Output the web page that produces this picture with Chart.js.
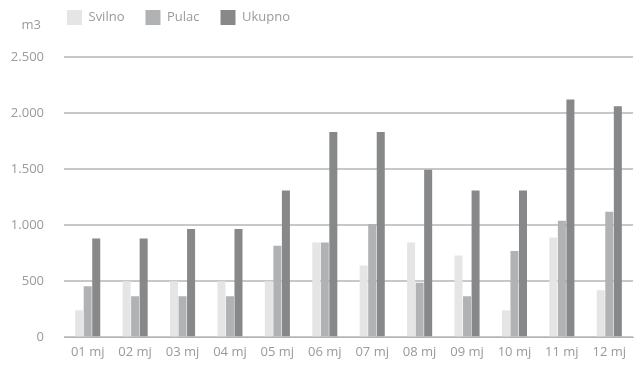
<!DOCTYPE html>
<html>
<head>
<meta charset="utf-8">
<script src="https://cdn.jsdelivr.net/npm/chart.js@4/dist/chart.umd.min.js"></script>
<style>
    html, body { margin: 0; padding: 0; background: #fff; }
    .wrap { width: 641px; height: 365px; position: relative; }
</style>
</head>
<body>
<div class="wrap"><canvas class="chart"></canvas></div>
<script>
const months = ['01 mj', '02 mj', '03 mj', '04 mj', '05 mj', '06 mj', '07 mj', '08 mj', '09 mj', '10 mj', '11 mj', '12 mj'];
const svilno = [240, 500, 500, 500, 500, 845, 640, 845, 730, 240, 890, 420];
const pulac = [455, 365, 365, 365, 815, 845, 1010, 485, 365, 770, 1040, 1120];
const ukupno = [880, 880, 965, 965, 1310, 1830, 1830, 1495, 1310, 1310, 2120, 2060];
const unitLabel = 'm3';

// 2500 -> "2.500"
function formatThousands(v) {
    return String(v).replace(/\B(?=(\d{3})+(?!\d))/g, '.');
}

// nudge the legend to the left edge of the plot and draw the unit above the axis
const layoutTweaks = {
    id: 'layoutTweaks',
    afterLayout(chart) {
        chart.legend.left += 46;
        chart.legend.top -= 22;
    },
    afterDraw(chart) {
        let ctx = chart.ctx;
        let y = chart.scales.y;
        ctx.save();
        ctx.fillStyle = '#9a9a9a';
        ctx.font = '13px "Open Sans"';
        ctx.textAlign = 'right';
        ctx.textBaseline = 'middle';
        ctx.fillText(unitLabel, y.right - 23, 25);
        ctx.restore();
    }
};

let ctx = document.getElementsByClassName('chart')[0].getContext('2d');
let chart = new Chart(ctx, {
    type: 'bar',
    data: {
        labels: months,
        datasets: [{
            label: 'Svilno',
            data: svilno,
            backgroundColor: '#e4e5e4'
        }, {
            label: 'Pulac',
            data: pulac,
            backgroundColor: '#b1b2b3'
        }, {
            label: 'Ukupno',
            data: ukupno,
            backgroundColor: '#87888a'
        }]
    },
    options: {
        responsive: true,
        maintainAspectRatio: false,
        animation: false,
        layout: { padding: { right: 8, top: 11 } },
        datasets: {
            bar: { categoryPercentage: 0.54, barPercentage: 0.94 }
        },
        plugins: {
            legend: {
                align: 'start',
                labels: {
                    boxWidth: 15,
                    boxHeight: 15,
                    padding: 21,
                    color: '#9a9a9a',
                    font: { family: 'Open Sans', size: 13 }
                }
            },
            tooltip: { enabled: false }
        },
        scales: {
            x: {
                afterFit(scale) { scale.height = 24; },
                grid: { display: false, drawTicks: false },
                border: { color: '#b4b4b4', width: 1 },
                ticks: {
                    color: '#9a9a9a',
                    padding: 7,
                    font: { family: 'Open Sans', size: 13 }
                }
            },
            y: {
                min: 0,
                max: 2500,
                afterFit(scale) { scale.width = 64; },
                border: { display: false },
                grid: { color: '#c8c8c8', lineWidth: 2, drawTicks: false },
                ticks: {
                    stepSize: 500,
                    padding: 20,
                    color: '#9a9a9a',
                    font: { family: 'Open Sans', size: 13 },
                    callback: v => formatThousands(v)
                }
            }
        }
    },
    plugins: [layoutTweaks]
});
</script>
</body>
</html>
